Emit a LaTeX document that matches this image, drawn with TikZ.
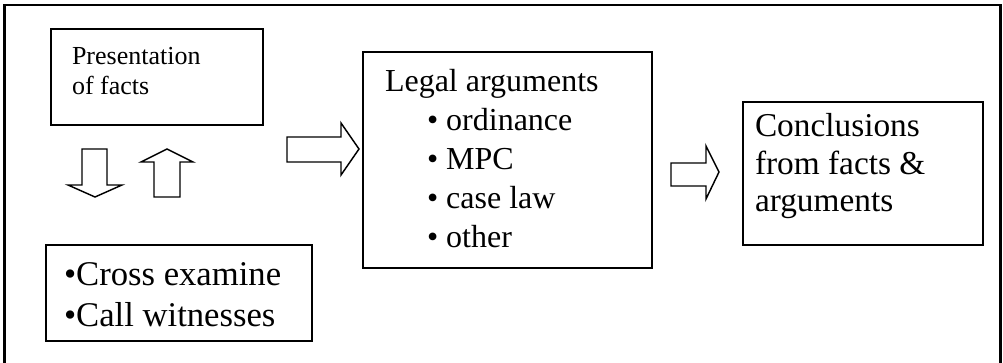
\documentclass[tikz,border=0pt]{standalone}
\usepackage{fontspec}
\setmainfont{Liberation Serif}
\begin{document}
\begin{tikzpicture}[x=0.75pt,y=-0.75pt,
  box/.style={draw=black,line width=1.5pt},
  frame/.style={draw=black,line width=1.6pt},
  blockarrow/.style={draw=black,fill=white,line width=1.1pt,line join=miter},
  txt/.style={anchor=base west,inner sep=0pt,outer sep=0pt},
  small/.style={font=\fontsize{19.5}{22}\selectfont},
  big/.style={font=\fontsize{24}{28}\selectfont},
  bigger/.style={font=\fontsize{26}{30}\selectfont},
  mid/.style={font=\fontsize{25}{29}\selectfont}]
\useasboundingbox (0,0) rectangle (1003,363);
% outer frame (open at the bottom edge of the picture)
\draw[frame] (4.5,380) -- (4.5,5) -- (1000.5,5) -- (1000.5,380);
% boxes
\draw[box] (51,29) rectangle (263,125);
\draw[box] (46,245) rectangle (312,341);
\draw[box] (363,52) rectangle (652,268);
\draw[box] (743,102) rectangle (983,245);
% texts
\node[txt,small] (pres1) at (72,65) {Presentation};
\node[txt,small] (pres2) at (72,95) {of facts};
\node[txt,bigger] (cross1) at (64,286) {•Cross examine};
\node[txt,bigger] (cross2) at (64,326) {•Call witnesses};
\node[txt,big] (legal) at (385,92) {Legal arguments};
\node[txt,big] (l1) at (427,131) {•\hspace{0.25em}ordinance};
\node[txt,big] (l2) at (427,170) {•\hspace{0.25em}MPC};
\node[txt,big] (l3) at (427,209) {•\hspace{0.25em}case law};
\node[txt,big] (l4) at (427,248) {•\hspace{0.25em}other};
\node[txt,mid] (c1) at (755,137) {Conclusions};
\node[txt,mid] (c2) at (755,175) {from facts \&};
\node[txt,mid] (c3) at (755,212) {arguments};
% block arrows
\draw[blockarrow] (82,149) -- (107,149) -- (107,185) -- (122,185) -- (95,197) -- (68,185) -- (82,185) -- cycle;
\draw[blockarrow] (154,197) -- (180,197) -- (180,162) -- (193,162) -- (167,149) -- (141,162) -- (154,162) -- cycle;
\draw[blockarrow] (287,137) -- (341,137) -- (341,123) -- (359,149) -- (341,175) -- (341,162) -- (287,162) -- cycle;
\draw[blockarrow] (671,163) -- (706,163) -- (706,146) -- (719,172) -- (706,199) -- (706,186) -- (671,186) -- cycle;
\end{tikzpicture}
\end{document}
